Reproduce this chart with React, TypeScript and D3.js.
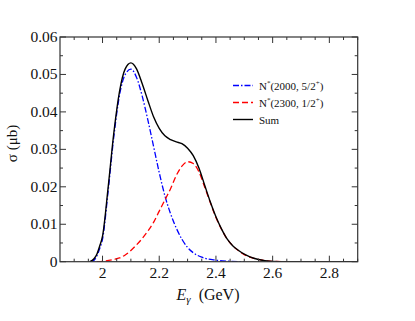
import React from "react";
import * as d3 from "d3";

const blueE = [1.96, 1.97, 1.98, 1.99, 2.0, 2.02, 2.04, 2.06, 2.08, 2.1, 2.12, 2.14, 2.16, 2.18, 2.2, 2.22, 2.24, 2.26, 2.28, 2.3, 2.32, 2.35, 2.4, 2.45, 2.5];
const blueV = [0, 0.0004, 0.0015, 0.0035, 0.006, 0.019, 0.0335, 0.0445, 0.0500, 0.0514, 0.0492, 0.0442, 0.0378, 0.0308, 0.0238, 0.0176, 0.0128, 0.009, 0.006, 0.0038, 0.0024, 0.0012, 0.0004, 0.0001, 0];

const redE = [1.98, 2.0, 2.04, 2.06, 2.08, 2.1, 2.12, 2.14, 2.16, 2.18, 2.2, 2.22, 2.24, 2.26, 2.28, 2.3, 2.32, 2.34, 2.36, 2.38, 2.4, 2.42, 2.44, 2.46, 2.48, 2.5, 2.52, 2.55, 2.6, 2.65];
const redV = [0, 0.0001, 0.0006, 0.001, 0.0018, 0.003, 0.0045, 0.0062, 0.0082, 0.0105, 0.0135, 0.0165, 0.0195, 0.023, 0.0255, 0.0267, 0.0262, 0.024, 0.02, 0.0158, 0.0118, 0.0086, 0.006, 0.0042, 0.0029, 0.0019, 0.0012, 0.0006, 0.0001, 0];

const sumE = [1.955, 1.97, 1.98, 1.99, 2.0, 2.02, 2.04, 2.06, 2.08, 2.1, 2.12, 2.14, 2.16, 2.18, 2.2, 2.22, 2.24, 2.26, 2.28, 2.3, 2.32, 2.34, 2.36, 2.38, 2.4, 2.42, 2.44, 2.46, 2.48, 2.5, 2.52, 2.55, 2.6, 2.65, 2.9];
const sumV = [0, 0.0008, 0.002, 0.0042, 0.0068, 0.020, 0.0345, 0.0455, 0.0515, 0.0531, 0.0515, 0.0475, 0.043, 0.0387, 0.0356, 0.0336, 0.0326, 0.032, 0.0315, 0.0303, 0.0283, 0.025, 0.0205, 0.016, 0.012, 0.0087, 0.006, 0.0042, 0.003, 0.002, 0.0013, 0.0006, 0.0001, 0, 0];

const xTickLabels = ["2", "2.2", "2.4", "2.6", "2.8"];
const yTickLabels = ["0", "0.01", "0.02", "0.03", "0.04", "0.05", "0.06"];
const legendLabels = ["N*(2000, 5/2+)", "N*(2300, 1/2+)", "Sum"];

const W = 415, H = 321;
const L = 60, R = 357.7, T = 37, B = 261.7;
const FONT = "Liberation Serif, Times New Roman, serif";
const fs = { fontFamily: FONT };

export default function App() {
  const x = d3.scaleLinear().domain([1.85, 2.9]).range([L, R]);
  const y = d3.scaleLinear().domain([0, 0.06]).range([B, T]);
  const line = (E: number[], V: number[]) =>
    d3.line<number>().x((_, i) => x(E[i])).y((v) => y(v)).curve(d3.curveMonotoneX)(V) || "";

  const xMinor = d3.range(1.9, 2.9001, 0.05);
  const xMajor = xTickLabels.map(Number);
  const yMinor = d3.range(0, 0.0601, 0.005);
  const yMajor = yTickLabels.map(Number);
  const ax = "#333";

  const series = [
    { d: line(blueE, blueV), color: "#0000ff", dash: "6,2,1.5,2", w: 1.3 },
    { d: line(redE, redV), color: "#ff0000", dash: "6,3", w: 1.3 },
    { d: line(sumE, sumV), color: "#000000", dash: "", w: 1.4 },
  ];

  return (
    <svg width={W} height={H} style={{ position: "absolute", left: 0, top: 0, background: "#fff", fontFamily: FONT }}>
      <rect x={0} y={0} width={W} height={H} fill="#fff" />
      <defs>
        <clipPath id="plot"><rect x={L} y={T} width={R - L} height={B - T} /></clipPath>
      </defs>
      <g clipPath="url(#plot)">
        {series.map((s, i) => (
          <path key={i} d={s.d} fill="none" stroke={s.color} strokeWidth={s.w} strokeDasharray={s.dash || undefined} />
        ))}
      </g>
      {xMinor.map((v, i) => {
        const major = xMajor.some((m) => Math.abs(m - v) < 1e-6);
        const len = major ? 6 : 3;
        return (
          <g key={"xt" + i} stroke={ax} strokeWidth={1}>
            <line x1={x(v)} x2={x(v)} y1={B} y2={B - len} />
            <line x1={x(v)} x2={x(v)} y1={T} y2={T + len} />
          </g>
        );
      })}
      {yMinor.map((v, i) => {
        const major = yMajor.some((m) => Math.abs(m - v) < 1e-6);
        const len = major ? 6 : 3;
        return (
          <g key={"yt" + i} stroke={ax} strokeWidth={1}>
            <line x1={L} x2={L + len} y1={y(v)} y2={y(v)} />
            <line x1={R} x2={R - len} y1={y(v)} y2={y(v)} />
          </g>
        );
      })}
      <rect x={L} y={T} width={R - L} height={B - T} fill="none" stroke={ax} strokeWidth={1.2} />
      {xTickLabels.map((t, i) => (
        <text key={"xl" + i} style={fs} x={x(xMajor[i])} y={277.5} textAnchor="middle" fontSize={15.5} fill="#111">{t}</text>
      ))}
      {yTickLabels.map((t, i) => (
        <text key={"yl" + i} style={fs} x={57.5} y={y(yMajor[i]) + 5} textAnchor="end" fontSize={15.5} fill="#111">{t}</text>
      ))}
      <text style={fs} x={208} y={300} textAnchor="middle" fontSize={16} fill="#111">
        <tspan fontStyle="italic">E</tspan>
        <tspan fontStyle="italic" fontSize={11} dy={3}>γ</tspan>
        <tspan dy={-3} dx={8}>(GeV)</tspan>
      </text>
      <text style={fs} transform={`translate(17,143.5) rotate(-90)`} textAnchor="middle" fontSize={15} fill="#111">
        σ  (μb)
      </text>
      {series.map((s, i) => (
        <g key={"lg" + i}>
          <line x1={233} x2={253} y1={85.5 + i * 17} y2={85.5 + i * 17} stroke={s.color} strokeWidth={s.w} strokeDasharray={s.dash || undefined} />
          <text style={fs} x={259} y={89.5 + i * 17} fontSize={11} fill="#111">
            {i < 2 ? (
              <>
                <tspan>N</tspan>
                <tspan fontSize={7} dy={-4.5}>*</tspan>
                <tspan dy={4.5}>{legendLabels[i].slice(2, legendLabels[i].length - 2)}</tspan>
                <tspan fontSize={7} dy={-4.5}>+</tspan>
                <tspan dy={4.5}>)</tspan>
              </>
            ) : (
              legendLabels[i]
            )}
          </text>
        </g>
      ))}
    </svg>
  );
}
